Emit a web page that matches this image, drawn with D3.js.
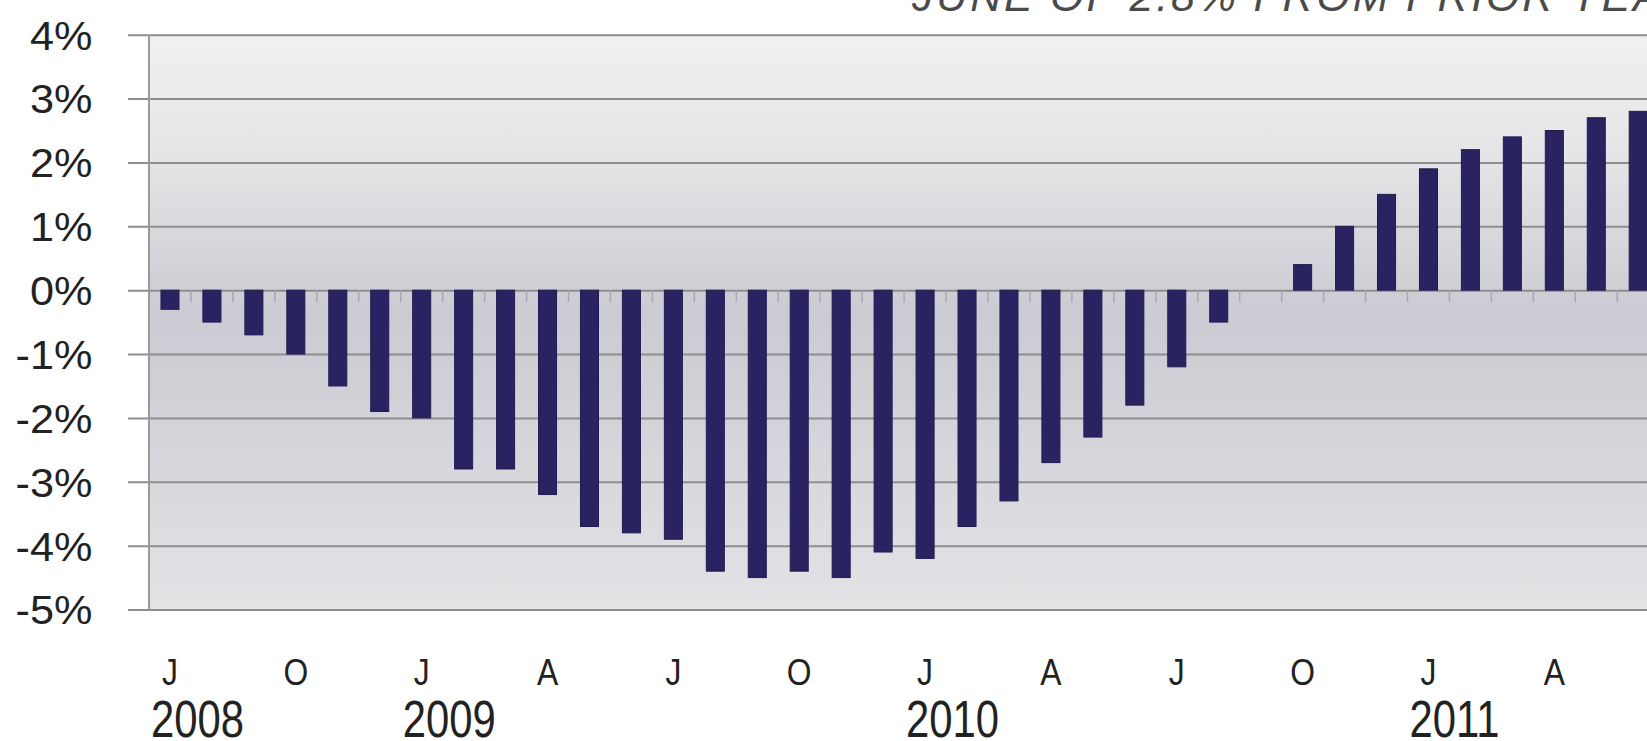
<!DOCTYPE html>
<html>
<head>
<meta charset="utf-8">
<script src="https://cdn.jsdelivr.net/npm/d3@7"></script>
<style>
	html, body { margin: 0; padding: 0; background: #fff; overflow: hidden; }
	svg { display: block; font-family: "Liberation Sans", Arial, sans-serif; }
</style>
</head>
<body>
<svg id="chart" width="1647" height="741"></svg>
<script>
"use strict";

// months shown, July 2008 - June 2011
var aMonths = [
	"2008-07", "2008-08", "2008-09", "2008-10", "2008-11", "2008-12",
	"2009-01", "2009-02", "2009-03", "2009-04", "2009-05", "2009-06",
	"2009-07", "2009-08", "2009-09", "2009-10", "2009-11", "2009-12",
	"2010-01", "2010-02", "2010-03", "2010-04", "2010-05", "2010-06",
	"2010-07", "2010-08", "2010-09", "2010-10", "2010-11", "2010-12",
	"2011-01", "2011-02", "2011-03", "2011-04", "2011-05", "2011-06"
];
// year over year change, %
var aValues = [
	-0.3, -0.5, -0.7, -1.0, -1.5, -1.9,
	-2.0, -2.8, -2.8, -3.2, -3.7, -3.8,
	-3.9, -4.4, -4.5, -4.4, -4.5, -4.1,
	-4.2, -3.7, -3.3, -2.7, -2.3, -1.8,
	-1.2, -0.5, 0.0, 0.4, 1.0, 1.5,
	1.9, 2.2, 2.4, 2.5, 2.7, 2.8
];
var aMonthTicks = ["2008-07", "2008-10", "2009-01", "2009-04", "2009-07", "2009-10",
	"2010-01", "2010-04", "2010-07", "2010-10", "2011-01", "2011-04"];
var aMonthLabels = ["J", "O", "J", "A", "J", "O", "J", "A", "J", "O", "J", "A"];
var aYearTicks = ["2008-07", "2009-01", "2010-01", "2011-01"];
var aYearLabels = ["2008", "2009", "2010", "2011"];
var aYTicks = [4, 3, 2, 1, 0, -1, -2, -3, -4, -5];
var sNote = "JUNE OF 2.8% FROM PRIOR YEAR";

var iWidth = 1647,
	iHeight = 741,
	iLeft = 149,
	iGridLeft = 128,
	iTop = 34.7,
	iBottom = 609.5,
	fStep = 41.95;

var oSVG = d3.select("#chart");

var oX = d3.scaleBand()
	.domain(aMonths)
	.range([iLeft, iLeft + fStep * aMonths.length])
	.paddingInner(0.57)
	.paddingOuter(0.285);

var oY = d3.scaleLinear()
	.domain([-5, 4])
	.range([iBottom, iTop]);

// plot background
var oGrad = oSVG.append("defs").append("linearGradient")
	.attr("id", "bg")
	.attr("x1", 0).attr("y1", 0).attr("x2", 0).attr("y2", 1);
oGrad.append("stop").attr("offset", "0%").attr("stop-color", "#f1f1f1");
oGrad.append("stop").attr("offset", "20%").attr("stop-color", "#e6e6e8");
oGrad.append("stop").attr("offset", "48%").attr("stop-color", "#cbccd3");
oGrad.append("stop").attr("offset", "60%").attr("stop-color", "#cfd0d6");
oGrad.append("stop").attr("offset", "100%").attr("stop-color", "#e3e3e6");

oSVG.append("rect")
	.attr("x", iLeft)
	.attr("y", iTop)
	.attr("width", iWidth - iLeft)
	.attr("height", iBottom - iTop)
	.attr("fill", "url(#bg)");

// note, mostly cut off by the top edge
oSVG.append("text")
	.attr("x", 912)
	.attr("y", 11)
	.attr("font-size", 43)
	.attr("font-style", "italic")
	.attr("letter-spacing", 2.8)
	.attr("fill", "#4a4a4a")
	.text(sNote);

// y axis + gridlines
var oYAxis = oSVG.append("g")
	.attr("transform", "translate(" + iGridLeft + ",0)")
	.call(d3.axisLeft(oY)
		.tickValues(aYTicks)
		.tickSize(-(iWidth - iGridLeft))
		.tickPadding(33)
		.tickFormat(function(d) { return d + "%"; }));
oYAxis.select(".domain").remove();
oYAxis.selectAll(".tick line")
	.attr("stroke", "#8e8e8e")
	.attr("stroke-width", 2);
oYAxis.selectAll(".tick text")
	.attr("font-size", 40)
	.attr("fill", "#222")
	.attr("dy", "0.36em")
	.attr("transform", "scale(1.08,1)");

// left edge of plot
oSVG.append("line")
	.attr("x1", iLeft).attr("x2", iLeft)
	.attr("y1", iTop).attr("y2", iBottom)
	.attr("stroke", "#9a9a9a")
	.attr("stroke-width", 2);

// small ticks between the bars on the zero line
var fGap = (oX.step() - oX.bandwidth()) / 2;
oSVG.append("g").selectAll("line")
	.data(aMonths.slice(1))
	.join("line")
	.attr("x1", function(d) { return oX(d) - fGap; })
	.attr("x2", function(d) { return oX(d) - fGap; })
	.attr("y1", oY(0))
	.attr("y2", oY(0) + 12)
	.attr("stroke", "#a9a9b0")
	.attr("stroke-width", 1.5);

// bars
oSVG.append("g").selectAll("rect")
	.data(aValues)
	.join("rect")
	.attr("x", function(d, i) { return oX(aMonths[i]); })
	.attr("y", function(d) { return oY(Math.max(0, d)); })
	.attr("width", oX.bandwidth())
	.attr("height", function(d) { return Math.abs(oY(d) - oY(0)); })
	.attr("fill", "#2a2362")
	.attr("stroke", "#231c52")
	.attr("stroke-width", 1);

// month letters
var oMonthAxis = oSVG.append("g")
	.attr("transform", "translate(0,660)")
	.call(d3.axisBottom(oX)
		.tickValues(aMonthTicks)
		.tickSize(0)
		.tickPadding(0)
		.tickFormat(function(d) { return aMonthLabels[aMonthTicks.indexOf(d)]; }));
oMonthAxis.select(".domain").remove();
oMonthAxis.selectAll(".tick text")
	.attr("font-size", 37)
	.attr("fill", "#222")
	.attr("dy", 0)
	.attr("y", 25)
	.attr("transform", "scale(0.86,1)");

// years, condensed
var oYearAxis = oSVG.append("g")
	.attr("transform", "translate(0,737)")
	.call(d3.axisBottom(oX)
		.tickValues(aYearTicks)
		.tickSize(0)
		.tickPadding(0)
		.tickFormat(function(d) { return aYearLabels[aYearTicks.indexOf(d)]; }));
oYearAxis.select(".domain").remove();
oYearAxis.selectAll(".tick text")
	.attr("font-size", 51)
	.attr("fill", "#222")
	.attr("text-anchor", "start")
	.attr("dy", 0)
	.attr("y", 0)
	.attr("transform", "translate(-19,0) scale(0.82,1)");
</script>
</body>
</html>
